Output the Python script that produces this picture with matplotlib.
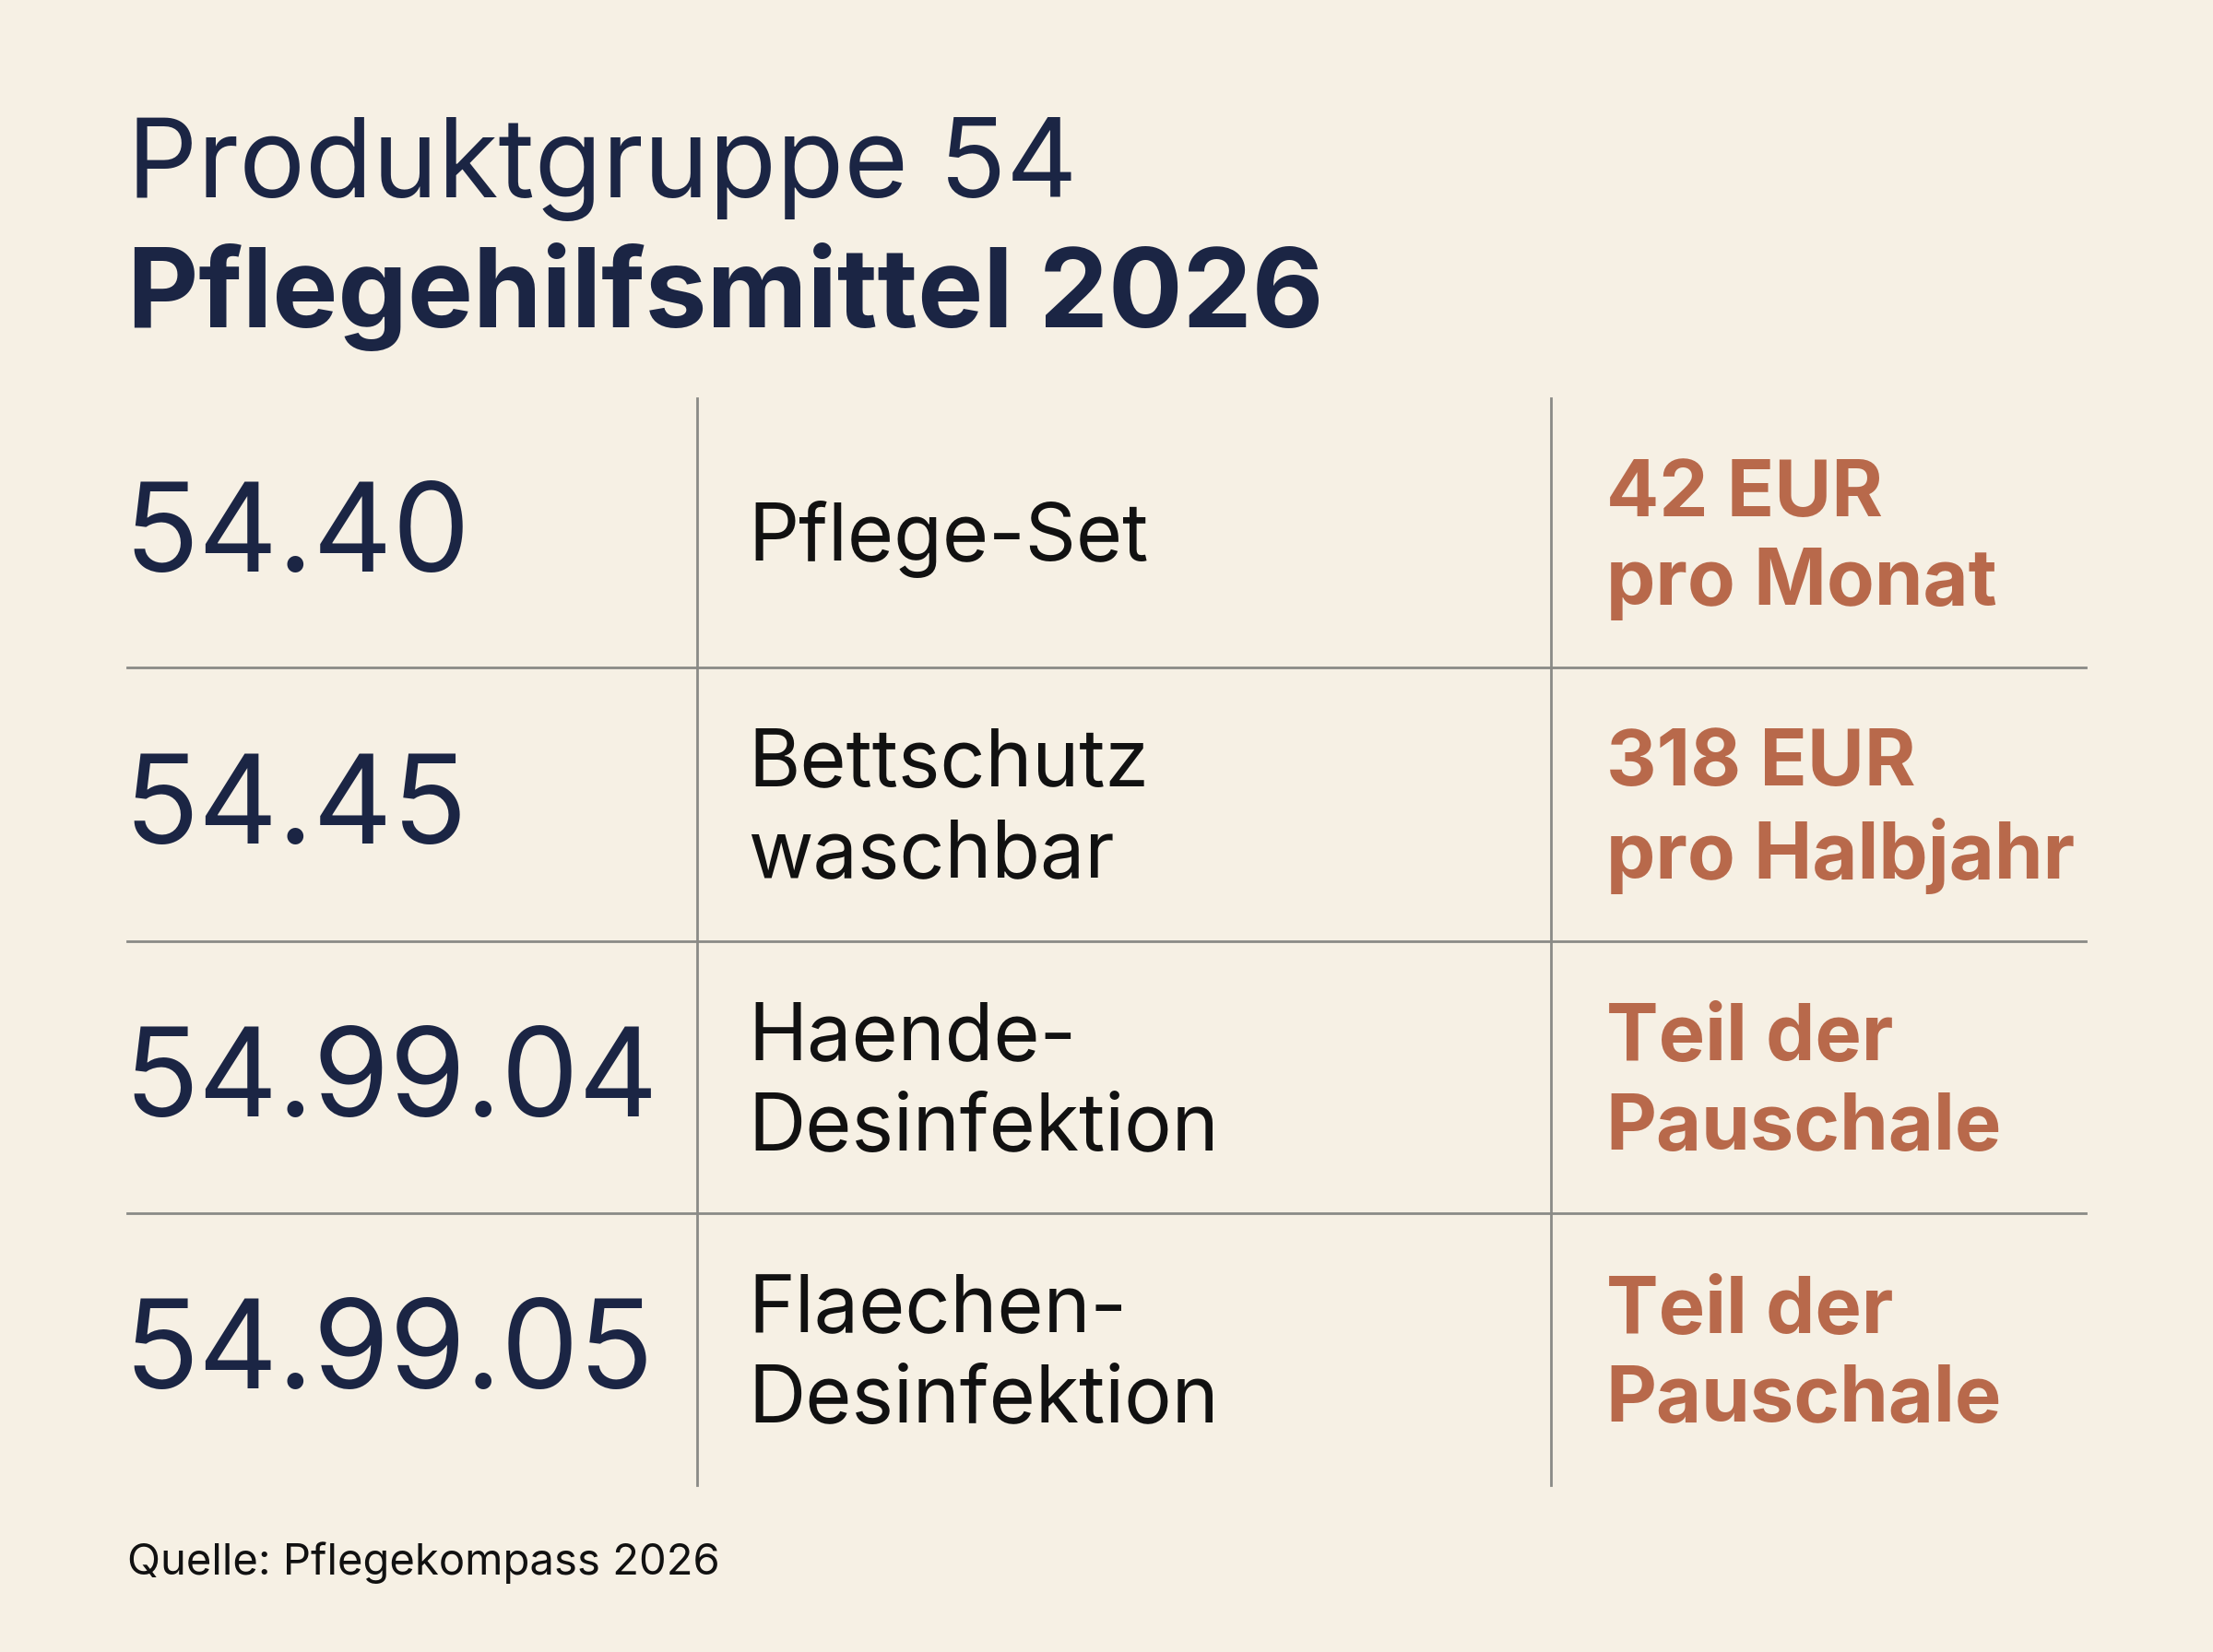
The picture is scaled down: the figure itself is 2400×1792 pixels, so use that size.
import matplotlib
matplotlib.use("Agg")
import matplotlib.pyplot as plt
from matplotlib.lines import Line2D

codes = ["54.40", "54.45", "54.99.04", "54.99.05"]
names = ["Pflege-Set", "Bettschutz\nwaschbar", "Haende-\nDesinfektion", "Flaechen-\nDesinfektion"]
prices = ["42 EUR\npro Monat", "318 EUR\npro Halbjahr", "Teil der\nPauschale", "Teil der\nPauschale"]
title1 = "Produktgruppe 54"
title2 = "Pflegehilfsmittel 2026"
source = "Quelle: Pflegekompass 2026"

W, H = 1568, 1171
BG = "#f6f0e4"; NAVY = "#1b2544"; RUST = "#b8694b"; LINE = "#8a8a86"
plt.rcParams['font.family'] = ['Inter', 'DejaVu Sans']

fig = plt.figure(figsize=(12, 8.96), dpi=200, facecolor=BG)
fx = lambda x: x / W
fy = lambda y: 1 - y / H

fig.text(fx(90), fy(140), title1, fontsize=43, color=NAVY, va='baseline')
fig.text(fx(90), fy(232), title2, fontsize=43, color=NAVY, weight='bold', va='baseline')

top, bottom = 282, 1053
seps = [473, 667, 860]
bounds = [top] + seps + [bottom]
for x in (494, 1099):
    fig.add_artist(Line2D([fx(x)] * 2, [fy(top), fy(bottom)], color=LINE, lw=1))
for y in seps:
    fig.add_artist(Line2D([fx(90), fx(1478)], [fy(y)] * 2, color=LINE, lw=1))

for i, (c, n, p) in enumerate(zip(codes, names, prices)):
    yc = fy((bounds[i] + bounds[i + 1]) / 2 + 5)
    fig.text(fx(88), yc, c, fontsize=48, color=NAVY, va='center')
    fig.text(fx(530), yc, n, fontsize=31, color='#111111', va='center', linespacing=1.28)
    fig.text(fx(1138), yc, p, fontsize=30.5, color=RUST, weight='bold', va='center', linespacing=1.28)

fig.text(fx(90), fy(1108), source, fontsize=17, color='#111111', va='center')
fig.savefig("out.png", facecolor=BG)
